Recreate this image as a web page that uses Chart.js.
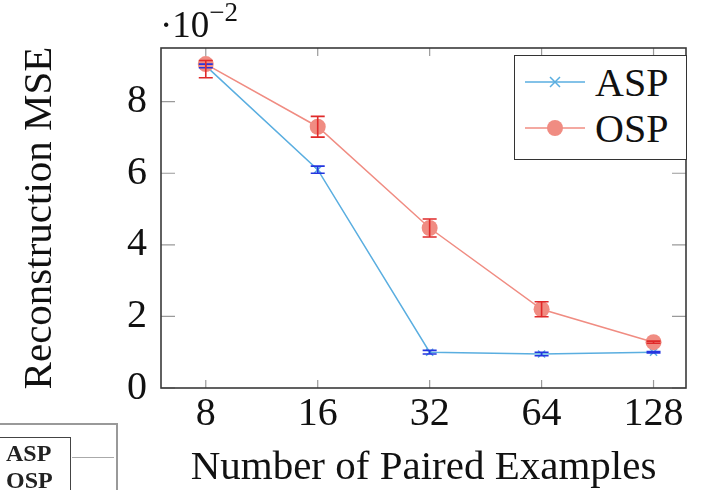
<!DOCTYPE html>
<html>
<head>
<meta charset="utf-8">
<script src="https://cdn.jsdelivr.net/npm/chart.js@4.4.1/dist/chart.umd.min.js"></script>
<style>
  body { margin: 0; background: #fff; }
  #wrap { position: relative; width: 704px; height: 490px; font-family: "Liberation Serif", "DejaVu Serif", serif; }
  #c { position: absolute; left: 0; top: 0; }
  #expo { position: absolute; left: 160px; top: 0px; font-size: 37px; color: #111; }
  #expo sup { font-size: 27px; position: relative; top: -3px; }
  #legend { position: absolute; left: 514px; top: 55px; width: 173px; height: 105px; border: 1.5px solid #333; background: #fff; box-sizing: border-box; }
  .row { position: absolute; left: 10px; height: 44px; display: flex; align-items: center; font-size: 40px; color: #111; }
  .row svg { margin-right: 10px; }
  #frag { position: absolute; left: 0; top: 423px; width: 116px; height: 70px; border-top: 2px solid #999; border-right: 2px solid #999; }
  #frag .inner { position: absolute; left: 0; top: 12px; width: 71px; height: 60px; border-top: 1.5px solid #444; border-right: 1.5px solid #444; font-size: 24px; font-weight: bold; color: #222; line-height: 27px; padding-left: 6px; box-sizing: border-box; padding-top: 2px; }
  #frag .ln { position: absolute; left: 72px; top: 32px; width: 42px; border-top: 1.5px solid #aaa; }
</style>
</head>
<body>
<div id="wrap">
  <canvas id="c" width="704" height="490"></canvas>
  <div id="expo">·10<sup>−2</sup></div>
  <div id="legend">
    <div class="row" style="top:4px">
      <svg width="60" height="20"><line x1="0" y1="10" x2="60" y2="10" stroke="#5aaee0" stroke-width="1.5"/><path d="M25 5 L35 15 M35 5 L25 15" stroke="#5aaee0" stroke-width="1.5"/></svg>ASP
    </div>
    <div class="row" style="top:50px">
      <svg width="60" height="20"><line x1="0" y1="10" x2="60" y2="10" stroke="#f08c82" stroke-width="1.5"/><circle cx="30" cy="10" r="8" fill="#f08c82"/></svg>OSP
    </div>
  </div>
  <div id="frag"><div class="inner">ASP<br>OSP</div><div class="ln"></div></div>
</div>
<script>
// paired examples (x axis, log2 spaced)
const examples = [8, 16, 32, 64, 128];
// reconstruction MSE, in units of 1e-2
const aspMse = [9.0, 6.1, 1.0, 0.95, 1.0];
const aspErr = [0.05, 0.1, 0.05, 0.05, 0.02];
const ospMse = [9.05, 7.3, 4.47, 2.2, 1.28];
const ospErrLow = [0.38, 0.29, 0.25, 0.21, 0.03];
const ospErrHigh = [0.1, 0.29, 0.25, 0.21, 0.03];
const yTicks = [0, 2, 4, 6, 8];

const serif = "'Liberation Serif', 'DejaVu Serif', serif";
const frame = "#3a3a3a";

function pts(vals) {
  return vals.map((v, i) => ({ x: Math.log2(examples[i]), y: v }));
}

// error bars + box with inward ticks
const extras = {
  id: "extras",
  afterDatasetsDraw(chart) {
    const ctx = chart.ctx;
    const xs = chart.scales.x, ys = chart.scales.y;
    const bars = [
      { vals: aspMse, lo: aspErr, hi: aspErr, color: "#2435e0" },
      { vals: ospMse, lo: ospErrLow, hi: ospErrHigh, color: "#e02a2a" }
    ];
    ctx.save();
    bars.forEach(b => {
      ctx.strokeStyle = b.color;
      ctx.lineWidth = 1.6;
      b.vals.forEach((v, i) => {
        const px = xs.getPixelForValue(Math.log2(examples[i]));
        const top = ys.getPixelForValue(v + b.hi[i]);
        const bot = ys.getPixelForValue(v - b.lo[i]);
        ctx.beginPath();
        ctx.moveTo(px, top); ctx.lineTo(px, bot);
        ctx.moveTo(px - 7, top); ctx.lineTo(px + 7, top);
        ctx.moveTo(px - 7, bot); ctx.lineTo(px + 7, bot);
        ctx.stroke();
      });
    });
    ctx.restore();
  },
  afterDraw(chart) {
    const ctx = chart.ctx;
    const a = chart.chartArea;
    const xs = chart.scales.x, ys = chart.scales.y;
    ctx.save();
    ctx.strokeStyle = "#9a9a9a";
    ctx.lineWidth = 1.2;
    ctx.beginPath();
    examples.forEach(e => {
      const px = xs.getPixelForValue(Math.log2(e));
      ctx.moveTo(px, a.bottom); ctx.lineTo(px, a.bottom - 8);
      ctx.moveTo(px, a.top); ctx.lineTo(px, a.top + 8);
    });
    yTicks.forEach(t => {
      const py = ys.getPixelForValue(t);
      ctx.moveTo(a.left, py); ctx.lineTo(a.left + 14, py);
      ctx.moveTo(a.right, py); ctx.lineTo(a.right - 14, py);
    });
    ctx.stroke();
    ctx.strokeStyle = frame;
    ctx.lineWidth = 1.6;
    ctx.strokeRect(a.left, a.top, a.right - a.left, a.bottom - a.top);
    ctx.restore();
  }
};

new Chart(document.getElementById("c").getContext("2d"), {
  type: "line",
  data: {
    datasets: [
      {
        label: "OSP",
        data: pts(ospMse),
        borderColor: "#f08c82",
        backgroundColor: "#f08c82",
        borderWidth: 1.5,
        pointStyle: "circle",
        pointRadius: 8,
        pointBorderWidth: 0,
        fill: false,
        tension: 0
      },
      {
        label: "ASP",
        data: pts(aspMse),
        borderColor: "#5aaee0",
        backgroundColor: "#5aaee0",
        borderWidth: 1.5,
        pointStyle: "crossRot",
        pointRadius: 5,
        pointBorderWidth: 1.5,
        fill: false,
        tension: 0
      }
    ]
  },
  options: {
    responsive: false,
    animation: false,
    layout: { padding: { top: 48, right: 18, left: 0, bottom: 0 } },
    plugins: { legend: { display: false }, tooltip: { enabled: false } },
    scales: {
      x: {
        type: "linear",
        min: 2.6,
        max: 7.29,
        afterBuildTicks: s => { s.ticks = examples.map(e => ({ value: Math.log2(e) })); },
        afterFit: s => { s.height = 102; },
        grid: { display: false, drawTicks: false },
        border: { display: false },
        ticks: {
          callback: v => String(Math.round(Math.pow(2, v))),
          color: "#111",
          font: { family: serif, size: 40 },
          padding: 2,
          maxRotation: 0
        },
        title: {
          display: true,
          text: "Number of Paired Examples",
          color: "#111",
          font: { family: serif, size: 41 },
          padding: { top: 0, bottom: -3 }
        }
      },
      y: {
        min: 0,
        max: 9.5,
        afterBuildTicks: s => { s.ticks = yTicks.map(v => ({ value: v })); },
        afterFit: s => { s.width = 161; },
        grid: { display: false, drawTicks: false },
        border: { display: false },
        ticks: {
          color: "#111",
          font: { family: serif, size: 40 },
          padding: 14
        },
        title: {
          display: true,
          text: "Reconstruction MSE",
          color: "#111",
          font: { family: serif, size: 41 },
          padding: { top: 16, bottom: 0 }
        }
      }
    }
  },
  plugins: [extras]
});
</script>
</body>
</html>
